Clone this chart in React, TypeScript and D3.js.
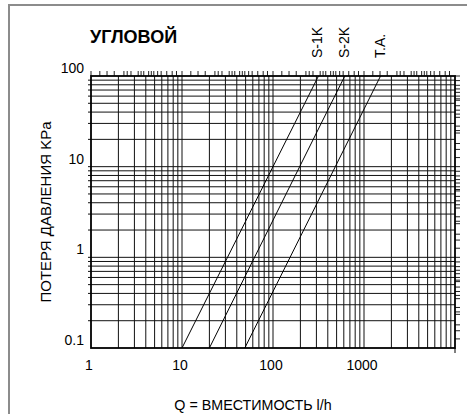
import React from "react";
import { scaleLog, line } from "d3";

// Q (l/h) vs pressure loss (kPa), quadratic lines
const seriesNames = ["S-1K", "S-2K", "T.A."];
const s1k: [number, number][] = [[10, 0.1], [316, 100]];
const s2k: [number, number][] = [[20, 0.1], [615, 100]];
const ta: [number, number][] = [[49, 0.1], [1520, 100]];
const seriesData = [s1k, s2k, ta];

const xTickValues = [1, 10, 100, 1000];
const xTickLabels = ["1", "10", "100", "1000"];
const yTickValues = [0.1, 1, 10, 100];
const yTickLabels = ["0.1", "1", "10", "100"];
const minorSteps = [2, 3, 4, 5, 6, 7, 8, 9];
const xDecades = [1, 10, 100, 1000];
const yDecades = [0.1, 1, 10];
// odd little tick marks outside the top and right edges
const topTickSteps = [1, 1.25, 1.5, 1.8, 2.3, 2.5, 2.75, 3.3, 3.55, 3.8, 4.3, 4.6, 4.9, 5.4, 5.9, 6.8, 7.8, 8.7];
const rightTickSteps = [1.26, 1.55, 1.8, 2.35, 2.5, 2.8, 3.5, 3.8, 4.2, 4.7, 5.4, 5.6, 6.0, 6.6, 7.2, 7.9, 8.9, 10];

const title = "УГЛОВОЙ";
const xTitle = "Q = ВМЕСТИМОСТЬ l/h";
const yTitle = "ПОТЕРЯ ДАВЛЕНИЯ KPa";

const W = 467;
const H = 414;
const margin = { top: 76, right: 12, bottom: 66, left: 91 };

export default function App() {
  React.useEffect(() => {
    document.body.style.margin = "0";
  }, []);

  const x = scaleLog().domain([1, 10000]).range([margin.left, W - margin.right]);
  const y = scaleLog().domain([0.1, 100]).range([H - margin.bottom, margin.top]);
  const x0 = x.range()[0], x1 = x.range()[1];
  const y0 = y.range()[0], y1 = y.range()[1];

  const lineGen = line<[number, number]>()
    .x((d) => x(d[0]))
    .y((d) => y(d[1]));

  const vGrid = xDecades.flatMap((d) => minorSteps.map((m) => d * m)).concat([10, 100, 1000]);
  const hGrid = yDecades.flatMap((d) => minorSteps.map((m) => d * m)).concat([1, 10]);
  const topTicks = xDecades.flatMap((d) => topTickSteps.map((m) => d * m));
  const rightTicks = yDecades.flatMap((d) => rightTickSteps.map((m) => d * m));

  const font = "'Liberation Sans', Arial, sans-serif";

  return (
    <svg width={W} height={H} style={{ display: "block" }} fontFamily={font}>
      <rect x={0} y={0} width={W} height={H} fill="#fff" />
      {/* frame */}
      <line x1={9} y1={5} x2={9} y2={H} stroke="#8c8c8c" strokeWidth={2} />
      <line x1={8} y1={5} x2={W} y2={5} stroke="#8c8c8c" strokeWidth={2} />

      {/* grid */}
      {hGrid.map((v, i) => (
        <line key={"h" + i} x1={x0 - 3} x2={x1} y1={y(v)} y2={y(v)} stroke="#111" strokeWidth={1} />
      ))}
      {vGrid.map((v, i) => (
        <line key={"v" + i} x1={x(v)} x2={x(v)} y1={y1} y2={y0} stroke="#111" strokeWidth={1} />
      ))}

      {/* outer ticks */}
      {topTicks.map((v, i) => (
        <line key={"t" + i} x1={x(v)} x2={x(v)} y1={y1 - 5} y2={y1} stroke="#222" strokeWidth={1} />
      ))}
      {rightTicks.map((v, i) => (
        <line key={"r" + i} x1={x1} x2={x1 + 5} y1={y(v)} y2={y(v)} stroke="#222" strokeWidth={1} />
      ))}

      {/* plot border */}
      <rect x={x0} y={y1} width={x1 - x0} height={y0 - y1} fill="none" stroke="#000" strokeWidth={1.8} />
      <line x1={x1} x2={x1} y1={y0} y2={y0 + 5} stroke="#000" strokeWidth={1} />

      {/* series */}
      {seriesData.map((d, i) => (
        <path key={"s" + i} d={lineGen(d) || ""} fill="none" stroke="#000" strokeWidth={1} />
      ))}
      {seriesData.map((d, i) => {
        const px = x(d[1][0]) + 4;
        return (
          <text key={"l" + i} transform={`translate(${px},58) rotate(-90)`} fontSize={14} fill="#000">
            {seriesNames[i]}
          </text>
        );
      })}

      {/* axis labels */}
      {xTickValues.map((v, i) => (
        <text key={"xl" + i} x={x(v) - 2} y={370} textAnchor="middle" fontSize={14} fill="#000">
          {xTickLabels[i]}
        </text>
      ))}
      {yTickValues.map((v, i) => (
        <text key={"yl" + i} x={x0 - 7} y={y(v) - 3} textAnchor="end" fontSize={14} fill="#000">
          {yTickLabels[i]}
        </text>
      ))}

      <text x={90} y={43} fontSize={18} fontWeight="bold" fill="#000">
        {title}
      </text>
      <text x={253} y={410} textAnchor="middle" fontSize={14.3} fill="#000">
        {xTitle}
      </text>
      <text transform={`translate(51,${(y0 + y1) / 2}) rotate(-90)`} textAnchor="middle" fontSize={15} fill="#000">
        {yTitle}
      </text>
    </svg>
  );
}
